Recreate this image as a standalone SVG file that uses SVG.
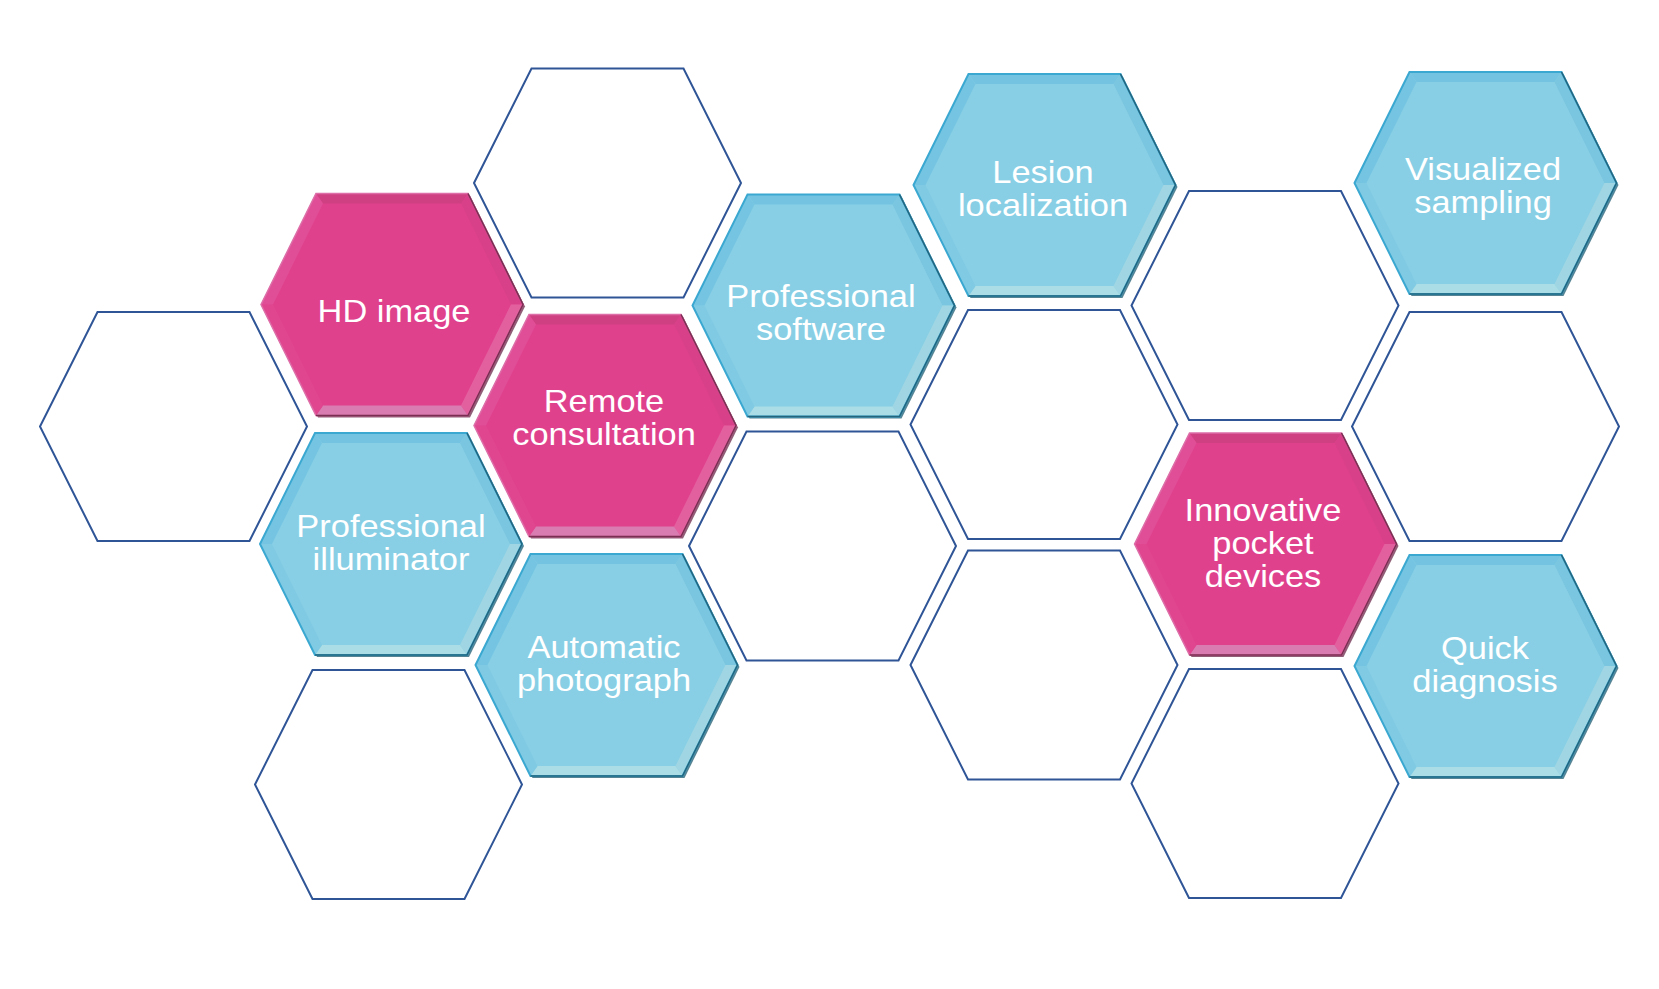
<svg xmlns="http://www.w3.org/2000/svg" xmlns:xlink="http://www.w3.org/1999/xlink" width="1659" height="989" viewBox="0 0 1659 989">
<style>
.outline{fill:none;stroke:#2F5597;stroke-width:2;stroke-linejoin:miter}
.lbl{fill:#FFFFFF;font-family:"Liberation Sans",Arial,Helvetica,sans-serif;font-size:31px;text-anchor:middle}
</style>
<defs>
<polygon id="hexOutline" class="outline" points="-133.5,0 -76,-114.5 76,-114.5 133.5,0 76,114.5 -76,114.5"/>
<g id="hexPink">
<polygon points="-129,2 -74,113 78,113 133,2 78,-109" fill="#6B2848" opacity="0.75"/>
<polygon points="-131,0 -76,-111 76,-111 131,0 76,111 -76,111" fill="#E0418D"/>
<polygon points="-76,-111 76,-111 69,-101 -69,-101" fill="#CE4081"/>
<polygon points="76,-111 131,0 119,0 69,-101" fill="#D84089"/>
<polygon points="131,0 76,111 69,101 119,0" fill="#E3609F"/>
<polygon points="76,111 -76,111 -69,101 69,101" fill="#D97CB1"/>
<polygon points="-76,111 -131,0 -119,0 -69,101" fill="#E04690"/>
<polygon points="-131,0 -76,-111 -69,-101 -119,0" fill="#E04E97"/>
<polygon points="-131,0 -76,-111 76,-111 131,0 76,111 -76,111" fill="none" stroke="#DD6EA8" stroke-width="1.5"/>
<polyline points="76,-111 131,0 76,111 -76,111" fill="none" stroke="#7A2E52" stroke-width="1.5"/>
</g>
<g id="hexBlue">
<polygon points="-129,2 -74,113 78,113 133,2 78,-109" fill="#1E5B72" opacity="0.75"/>
<polygon points="-131,0 -76,-111 76,-111 131,0 76,111 -76,111" fill="#88CFE5"/>
<polygon points="-76,-111 76,-111 69,-101 -69,-101" fill="#74C4E1"/>
<polygon points="76,-111 131,0 119,0 69,-101" fill="#7AC5DF"/>
<polygon points="131,0 76,111 69,101 119,0" fill="#A0D6E3"/>
<polygon points="76,111 -76,111 -69,101 69,101" fill="#AADDE5"/>
<polygon points="-76,111 -131,0 -119,0 -69,101" fill="#80CAE3"/>
<polygon points="-131,0 -76,-111 -69,-101 -119,0" fill="#75C5E2"/>
<polygon points="-131,0 -76,-111 76,-111 131,0 76,111 -76,111" fill="none" stroke="#3BA8D1" stroke-width="2"/>
<polyline points="76,-111 131,0 76,111 -76,111" fill="none" stroke="#24657E" stroke-width="1.5"/>
</g>
</defs>
<rect width="1659" height="989" fill="#FFFFFF"/>
<g id="connectors"/>
<g id="outline-1"><use xlink:href="#hexOutline" transform="translate(173.5,426.5)"/></g>
<g id="outline-2"><use xlink:href="#hexOutline" transform="translate(388.5,784.5)"/></g>
<g id="outline-3"><use xlink:href="#hexOutline" transform="translate(607.5,183)"/></g>
<g id="outline-4"><use xlink:href="#hexOutline" transform="translate(822.5,546)"/></g>
<g id="outline-5"><use xlink:href="#hexOutline" transform="translate(1044,424.5)"/></g>
<g id="outline-6"><use xlink:href="#hexOutline" transform="translate(1044,665)"/></g>
<g id="outline-7"><use xlink:href="#hexOutline" transform="translate(1265,305.5)"/></g>
<g id="outline-8"><use xlink:href="#hexOutline" transform="translate(1265,783.5)"/></g>
<g id="outline-9"><use xlink:href="#hexOutline" transform="translate(1485.5,426.5)"/></g>

<g id="hd-image">
<use xlink:href="#hexPink" transform="translate(392,304.5)"/>
<text class="lbl" transform="matrix(1.11 0 0 1 394 0)" x="0" y="322">HD image</text>
</g>
<g id="remote-consultation">
<use xlink:href="#hexPink" transform="translate(605,425.5)"/>
<text class="lbl" transform="matrix(1.11 0 0 1 604 0)"><tspan x="0" y="412">Remote</tspan><tspan x="0" y="445">consultation</tspan></text>
</g>
<g id="professional-illuminator">
<use xlink:href="#hexBlue" transform="translate(391,544)"/>
<text class="lbl" transform="matrix(1.11 0 0 1 391 0)"><tspan x="0" y="537">Professional</tspan><tspan x="0" y="570">illuminator</tspan></text>
</g>
<g id="automatic-photograph">
<use xlink:href="#hexBlue" transform="translate(606.5,665)"/>
<text class="lbl" transform="matrix(1.11 0 0 1 604 0)"><tspan x="0" y="658">Automatic</tspan><tspan x="0" y="691">photograph</tspan></text>
</g>
<g id="professional-software">
<use xlink:href="#hexBlue" transform="translate(823.5,305.5)"/>
<text class="lbl" transform="matrix(1.11 0 0 1 821 0)"><tspan x="0" y="307">Professional</tspan><tspan x="0" y="340">software</tspan></text>
</g>
<g id="lesion-localization">
<use xlink:href="#hexBlue" transform="translate(1044.5,185)"/>
<text class="lbl" transform="matrix(1.11 0 0 1 1043 0)"><tspan x="0" y="183">Lesion</tspan><tspan x="0" y="216">localization</tspan></text>
</g>
<g id="visualized-sampling">
<use xlink:href="#hexBlue" transform="translate(1485.5,183)"/>
<text class="lbl" transform="matrix(1.11 0 0 1 1483 0)"><tspan x="0" y="180">Visualized</tspan><tspan x="0" y="213">sampling</tspan></text>
</g>
<g id="innovative-pocket-devices">
<use xlink:href="#hexPink" transform="translate(1265.5,544)"/>
<text class="lbl" transform="matrix(1.11 0 0 1 1263 0)"><tspan x="0" y="521">Innovative</tspan><tspan x="0" y="554">pocket</tspan><tspan x="0" y="587">devices</tspan></text>
</g>
<g id="quick-diagnosis">
<use xlink:href="#hexBlue" transform="translate(1485.5,666)"/>
<text class="lbl" transform="matrix(1.11 0 0 1 1485 0)"><tspan x="0" y="659">Quick</tspan><tspan x="0" y="692">diagnosis</tspan></text>
</g>
</svg>
